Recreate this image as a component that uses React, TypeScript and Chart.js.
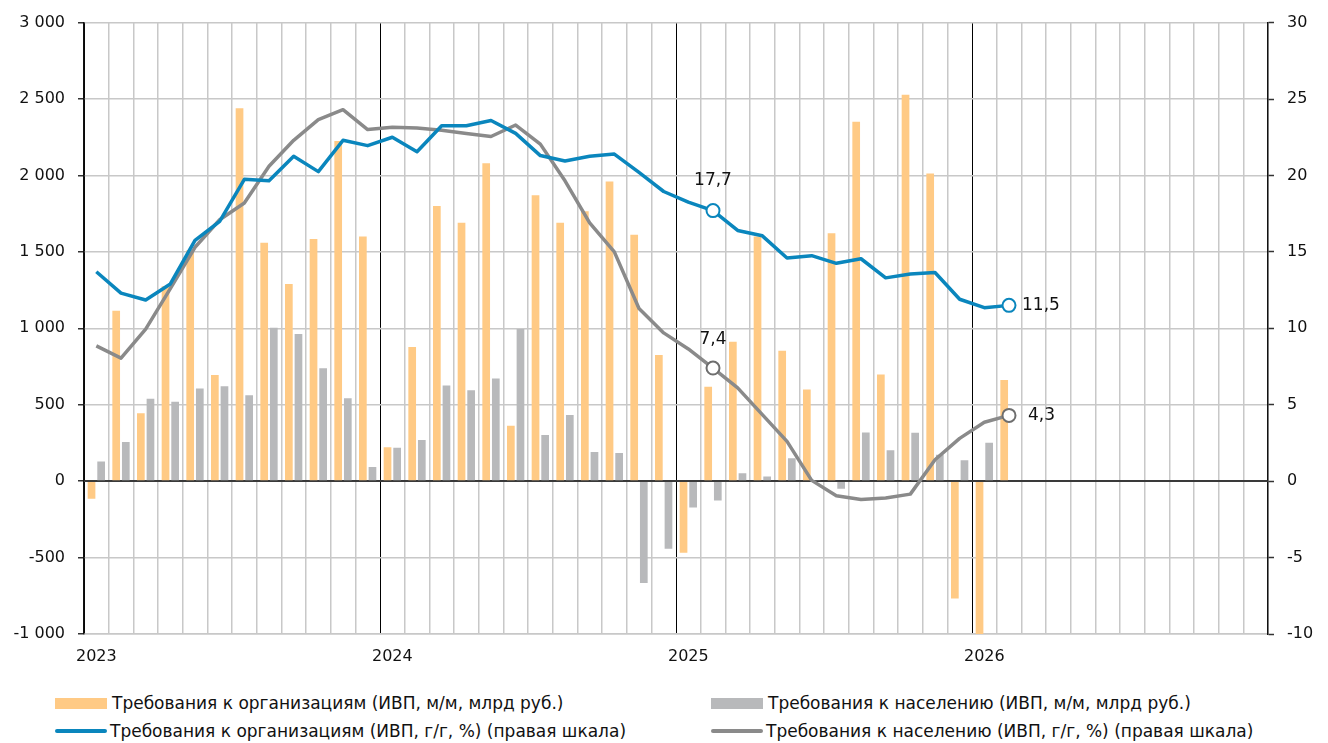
import React, { useEffect, useRef } from "react";
import { Chart, registerables } from "chart.js";

Chart.register(...registerables);

// ---------- data ----------
const years = ["2023", "2024", "2025", "2026"];
const monthNums = ["01", "02", "03", "04", "05", "06", "07", "08", "09", "10", "11", "12"];
const categories: string[] = years.flatMap((y) => monthNums.map((m) => `${y}-${m}`));

const seriesNames = [
  "Требования к организациям (ИВП, м/м, млрд руб.)",
  "Требования к населению (ИВП, м/м, млрд руб.)",
  "Требования к организациям (ИВП, г/г, %) (правая шкала)",
  "Требования к населению (ИВП, г/г, %) (правая шкала)",
];

// monthly increments, bn rub (left axis), Jan 2023 – Feb 2026
const orgMonthly = [
  -115, 1115, 445, 1275, 1510, 695, 2440, 1560, 1290, 1585, 2225, 1600,
  222, 878, 1800, 1690, 2080, 363, 1870, 1690, 1765, 1960, 1612, 825,
  -468, 617, 912, 1600, 853, 600, 1622, 2352, 698, 2528, 2013, -767,
  -1015, 662,
];
const hhMonthly = [
  128, 256, 539, 519, 606, 621, 562, 1003, 962, 738, 543, 93,
  219, 269, 625, 595, 671, 995, 302, 432, 191, 184, -667, -443,
  -172, -126, 52, 30, 150, 8, -50, 319, 202, 317, 172, 137,
  252, -5,
];

// y/y growth, % (right axis)
const orgYoY = [
  13.7, 12.3, 11.85, 12.9, 15.75, 17.0, 19.75, 19.65, 21.25, 20.25, 22.3, 21.95,
  22.5, 21.55, 23.25, 23.25, 23.6, 22.75, 21.3, 20.95, 21.25, 21.4, 20.2, 18.95,
  18.25, 17.7, 16.4, 16.05, 14.6, 14.75, 14.25, 14.55, 13.3, 13.55, 13.65, 11.9,
  11.35, 11.5,
];
const hhYoY = [
  8.85, 8.05, 9.95, 12.6, 15.3, 17.1, 18.2, 20.6, 22.3, 23.65, 24.3, 23.0,
  23.15, 23.1, 22.95, 22.75, 22.55, 23.3, 22.05, 19.65, 16.9, 15.0, 11.3, 9.7,
  8.65, 7.4, 6.1, 4.35, 2.6, 0.05, -0.95, -1.2, -1.1, -0.85, 1.4, 2.8,
  3.85, 4.3,
];

const markedPoints = [25, 37];

const leftMin = -1000;
const leftMax = 3000;
const leftStep = 500;
const rightMin = -10;
const rightMax = 30;
const rightStep = 5;

// ---------- styles ----------
const ORANGE = "#FFCA85";
const GREYBAR = "#B8B9BB";
const BLUE = "#0A86BD";
const GREYLINE = "#8A8A8A";
const GRID = "#C8C8C8";
const FONT = "'DejaVu Sans', sans-serif";

const pad = (arr: number[]) => categories.map((_, i) => (i < arr.length ? arr[i] : null));

const fmtThousands = (v: number) => {
  const n = Math.abs(v);
  const s = n >= 1000 ? `${Math.floor(n / 1000)} ${String(n % 1000).padStart(3, "0")}` : `${n}`;
  return (v < 0 ? "-" : "") + s;
};
const fmtPct = (v: number) => v.toFixed(1).replace(".", ",");

const overlayPlugin = {
  id: "overlay",
  afterDatasetDraw(chart: any, args: any) {
    if (args.index !== 0) return;
    const { ctx, chartArea, scales } = chart;
    const y0 = scales.y.getPixelForValue(0);
    ctx.save();
    ctx.strokeStyle = "#3a3a3a";
    ctx.lineWidth = 1.5;
    ctx.beginPath();
    ctx.moveTo(chartArea.left, y0);
    ctx.lineTo(chartArea.right, y0);
    ctx.stroke();
    ctx.restore();
  },
  afterDatasetsDraw(chart: any) {
    const { ctx } = chart;
    ctx.save();
    ctx.font = `17px ${FONT}`;
    ctx.fillStyle = "#111";
    ctx.textBaseline = "middle";
    [2, 3].forEach((di) => {
      const meta = chart.getDatasetMeta(di);
      const data = chart.data.datasets[di].data as number[];
      markedPoints.forEach((pi, k) => {
        const el = meta.data[pi];
        if (!el) return;
        const txt = fmtPct(data[pi]);
        if (k === 0) {
          ctx.textAlign = "center";
          ctx.fillText(txt, el.x, el.y - (di === 2 ? 30 : 28));
        } else {
          ctx.textAlign = "left";
          ctx.fillText(txt, el.x + (di === 2 ? 13 : 19), el.y);
        }
      });
    });
    ctx.restore();
  },
};

export default function App() {
  const ref = useRef<HTMLCanvasElement | null>(null);

  useEffect(() => {
    if (!ref.current) return;
    const pointR = (c: any) => (markedPoints.includes(c.dataIndex) ? 6.5 : 0);
    const chart = new Chart(ref.current, {
      type: "bar",
      data: {
        labels: categories,
        datasets: [
          {
            type: "bar",
            label: seriesNames[0],
            data: pad(orgMonthly),
            backgroundColor: ORANGE,
            yAxisID: "y",
            order: 2,
            categoryPercentage: 0.78,
            barPercentage: 0.8,
          },
          {
            type: "bar",
            label: seriesNames[1],
            data: pad(hhMonthly),
            backgroundColor: GREYBAR,
            yAxisID: "y",
            order: 2,
            categoryPercentage: 0.78,
            barPercentage: 0.8,
          },
          {
            type: "line",
            label: seriesNames[2],
            data: pad(orgYoY),
            borderColor: BLUE,
            borderWidth: 3.5,
            yAxisID: "y1",
            order: 1,
            tension: 0,
            spanGaps: false,
            pointRadius: pointR,
            pointBackgroundColor: "#fff",
            pointBorderColor: BLUE,
            pointBorderWidth: 2,
            borderJoinStyle: "round",
          },
          {
            type: "line",
            label: seriesNames[3],
            data: pad(hhYoY),
            borderColor: GREYLINE,
            borderWidth: 3.5,
            yAxisID: "y1",
            order: 1,
            tension: 0,
            spanGaps: false,
            pointRadius: pointR,
            pointBackgroundColor: "#fff",
            pointBorderColor: "#6e6e6e",
            pointBorderWidth: 2,
            borderJoinStyle: "round",
          },
        ],
      },
      options: {
        responsive: false,
        animation: false,
        layout: { padding: { top: 20, left: 0, right: 0, bottom: 0 } },
        plugins: {
          legend: { display: false },
          tooltip: { enabled: false },
        },
        scales: {
          x: {
            type: "category",
            offset: true,
            grid: {
              offset: true,
              drawTicks: false,
              color: (c: any) => (c.index % 12 === 0 ? "#000" : GRID),
              lineWidth: (c: any) => (c.index % 12 === 0 ? 1 : 1.5),
            },
            border: { color: GRID, width: 1.5 },
            ticks: {
              autoSkip: false,
              maxRotation: 0,
              minRotation: 0,
              padding: 13,
              color: "#111",
              font: { family: FONT, size: 16 },
              callback: (_v: any, i: number) => (i % 12 === 0 ? years[i / 12] : ""),
            },
            afterFit: (s: any) => {
              s.height = 46;
            },
          },
          y: {
            position: "left",
            min: leftMin,
            max: leftMax,
            grid: {
              color: (c: any) => (c.tick && c.tick.value === 0 ? "#3a3a3a" : GRID),
              lineWidth: 1.5,
              tickColor: "#333",
              tickLength: 6,
              tickWidth: 1.5,
            },
            border: { color: "#111", width: 1.5 },
            ticks: {
              stepSize: leftStep,
              padding: 13,
              color: "#111",
              font: { family: FONT, size: 16 },
              callback: (v: any) => fmtThousands(Number(v)),
            },
            afterFit: (s: any) => {
              s.width = 84;
            },
          },
          y1: {
            position: "right",
            min: rightMin,
            max: rightMax,
            grid: {
              drawOnChartArea: false,
              tickColor: "#333",
              tickLength: 6,
              tickWidth: 1.5,
            },
            border: { color: "#111", width: 1.5 },
            ticks: {
              stepSize: rightStep,
              padding: 13,
              color: "#111",
              font: { family: FONT, size: 16 },
              callback: (v: any) => `${v}`,
            },
            afterFit: (s: any) => {
              s.width = 60;
            },
          },
        },
      },
      plugins: [overlayPlugin],
    } as any);
    return () => chart.destroy();
  }, []);

  const legendItems = [
    { name: seriesNames[0], color: ORANGE, kind: "box", left: 55, top: 703 },
    { name: seriesNames[1], color: GREYBAR, kind: "box", left: 711, top: 703 },
    { name: seriesNames[2], color: BLUE, kind: "line", left: 55, top: 731 },
    { name: seriesNames[3], color: GREYLINE, kind: "line", left: 711, top: 731 },
  ];

  return (
    <div
      style={{
        position: "fixed",
        left: 0,
        top: 0,
        width: 1328,
        height: 743,
        background: "#fff",
        overflow: "hidden",
      }}
    >
      <canvas ref={ref} width={1328} height={680} style={{ display: "block" }} />
      {legendItems.map((it) => (
        <div
          key={it.name}
          style={{
            position: "absolute",
            left: it.left,
            top: it.top - 12,
            height: 24,
            display: "flex",
            alignItems: "center",
            fontFamily: FONT,
            fontSize: 17,
            color: "#111",
            whiteSpace: "nowrap",
          }}
        >
          <span
            style={{
              display: "inline-block",
              width: 52,
              height: it.kind === "box" ? 11 : 4,
              borderRadius: it.kind === "box" ? 0 : 2,
              background: it.color,
              marginRight: it.kind === "box" ? 5 : 3,
            }}
          />
          <span>{it.name}</span>
        </div>
      ))}
    </div>
  );
}
